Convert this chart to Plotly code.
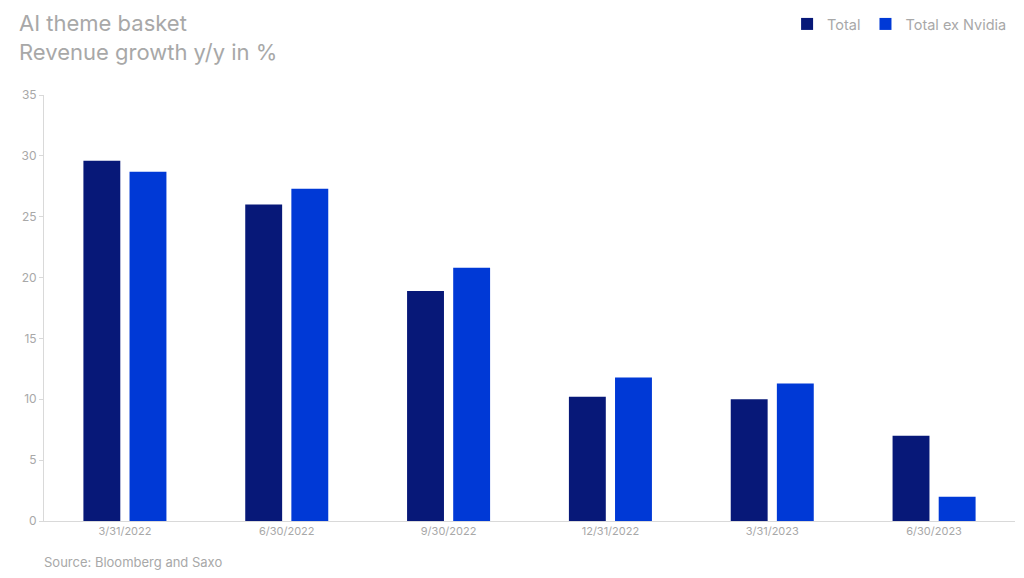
import plotly.graph_objects as go

categories = ["3/31/2022", "6/30/2022", "9/30/2022", "12/31/2022", "3/31/2023", "6/30/2023"]
total = [29.6, 26.0, 18.9, 10.2, 10.0, 7.0]
total_ex_nvidia = [28.7, 27.3, 20.8, 11.8, 11.3, 2.0]
y_ticks = [0, 5, 10, 15, 20, 25, 30, 35]

FONT = "Inter, Roboto, sans-serif"
GREY = "#a8a8a8"

fig = go.Figure()
fig.add_trace(go.Bar(x=categories, y=total, name="Total",
                     marker=dict(color="#071878", line=dict(width=0))))
fig.add_trace(go.Bar(x=categories, y=total_ex_nvidia, name="Total ex Nvidia",
                     marker=dict(color="#0039d6", line=dict(width=0))))

fig.update_layout(
    width=1016, height=570,
    margin=dict(l=36, r=9, t=87, b=57),
    paper_bgcolor="white", plot_bgcolor="white",
    font=dict(family=FONT, color=GREY),
    barmode="group", bargap=0.43, bargroupgap=0.2,
    showlegend=True,
    legend=dict(orientation="h", x=0.997, xanchor="right", y=1.0, yanchor="top",
                yref="container", font=dict(size=14.5, color=GREY),
                itemwidth=30, traceorder="normal"),
    xaxis=dict(type="category", showgrid=False, showline=True, linecolor="#d9d9d9",
               linewidth=1, ticks="", tickfont=dict(size=11, color=GREY)),
    yaxis=dict(range=[0, 35], tickvals=y_ticks, showgrid=False, zeroline=False,
               showline=True, linecolor="#d9d9d9", linewidth=1,
               ticks="outside", ticklen=4, tickcolor="#d9d9d9",
               tickfont=dict(size=12, color=GREY)),
)

fig.add_annotation(text="AI theme basket<br>Revenue growth y/y in %",
                   xref="paper", yref="paper", x=-0.026, y=1.0, yshift=87, xshift=-2,
                   xanchor="left", yanchor="top", align="left", showarrow=False,
                   font=dict(size=22, color=GREY, family=FONT))
fig.add_annotation(text="Source: Bloomberg and Saxo",
                   xref="paper", yref="paper", x=0, y=0, yshift=-31, xshift=-2,
                   xanchor="left", yanchor="top", align="left", showarrow=False,
                   font=dict(size=13, color=GREY, family=FONT))

fig.write_html("out.html")
